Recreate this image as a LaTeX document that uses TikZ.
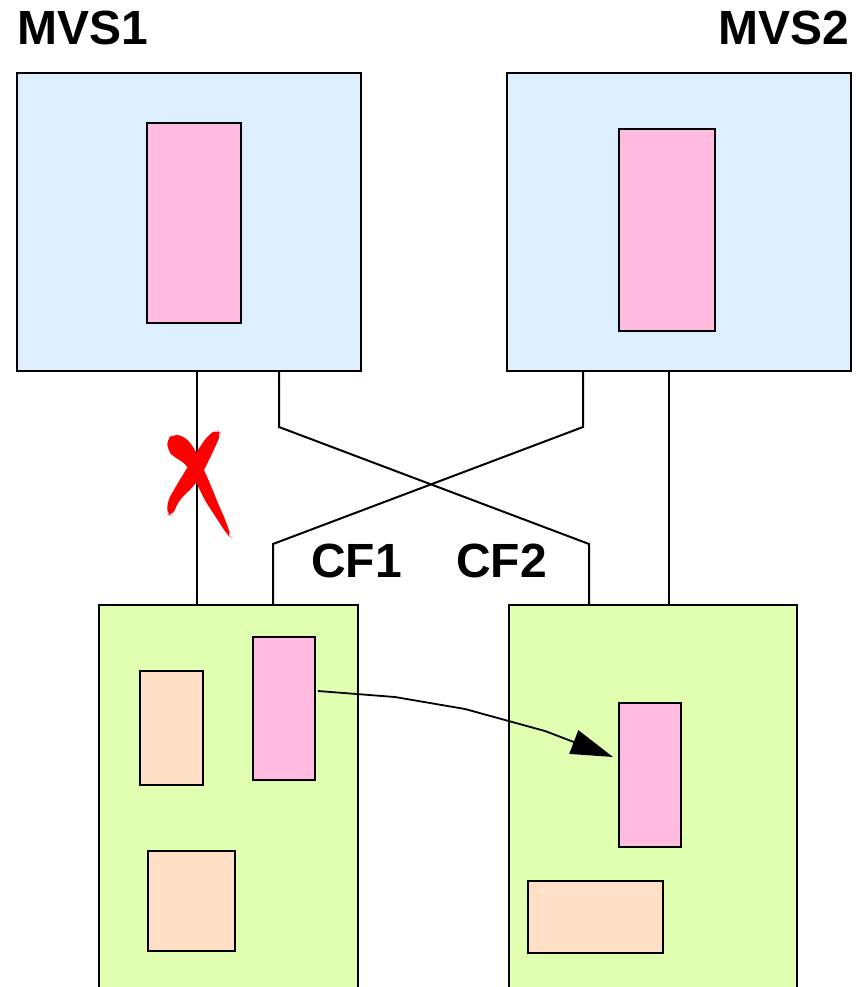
\documentclass[tikz,border=0pt]{standalone}
\usepackage{fontspec}
\setmainfont{Liberation Sans}
\usetikzlibrary{arrows.meta}
\definecolor{mvsblue}{RGB}{221,238,255}
\definecolor{appink}{RGB}{255,187,224}
\definecolor{cfgreen}{RGB}{225,255,176}
\definecolor{peach}{RGB}{255,224,198}
\definecolor{xred}{RGB}{255,0,0}
\tikzset{
  blk/.style={draw=black, line width=2pt, inner sep=0pt, outer sep=0pt, rectangle},
  lbl/.style={font=\fontsize{48}{50}\selectfont\bfseries, inner sep=0pt},
  wire/.style={line width=2pt, line join=miter},
}
\begin{document}
\begin{tikzpicture}[x=1pt,y=-1pt]
\useasboundingbox (0,0) rectangle (863,987);
\clip (0,0) rectangle (863,987);
% MVS boxes
\node[blk, fill=mvsblue, minimum width=344pt, minimum height=298pt] (m1) at (189,222) {};
\node[blk, fill=appink, minimum width=94pt, minimum height=200pt] (p1) at (194,223) {};
\node[blk, fill=mvsblue, minimum width=344pt, minimum height=298pt] (m2) at (679,222) {};
\node[blk, fill=appink, minimum width=96pt, minimum height=202pt] (p2) at (667,230) {};
% CF boxes
\node[blk, fill=cfgreen, minimum width=259pt, minimum height=405pt] (c1) at (228.5,807.5) {};
\node[blk, fill=peach, minimum width=63pt, minimum height=114pt] (a1) at (171.5,728) {};
\node[blk, fill=appink, minimum width=62pt, minimum height=143pt] (a2) at (284,708.5) {};
\node[blk, fill=peach, minimum width=87pt, minimum height=100pt] (a3) at (191.5,901) {};
\node[blk, fill=cfgreen, minimum width=288pt, minimum height=405pt] (c2) at (653,807.5) {};
\node[blk, fill=appink, minimum width=62pt, minimum height=144pt] (b1) at (650,775) {};
\node[blk, fill=peach, minimum width=135pt, minimum height=72pt] (b2) at (595.5,917) {};
% labels
\node[lbl, anchor=base west] (t1) at (17,45) {MVS1};
\node[lbl, anchor=base east] (t2) at (849,45) {MVS2};
\node[lbl, anchor=base west] (t3) at (311,577) {CF1};
\node[lbl, anchor=base west] (t4) at (456,577) {CF2};
% wires
\draw[wire] ([xshift=180pt]m1.south west) -- ([xshift=98pt]c1.north west);
\draw[wire] ([xshift=262pt]m1.south west) -- ++(0,56) -- ([xshift=80pt,yshift=61pt]c2.north west) -- ([xshift=80pt]c2.north west);
\draw[wire] ([xshift=76pt]m2.south west) -- ++(0,56) -- ([xshift=174pt,yshift=61pt]c1.north west) -- ([xshift=174pt]c1.north west);
\draw[wire] ([xshift=162pt]m2.south west) -- ([xshift=160pt]c2.north west);
% arrow
\coordinate (s) at ([xshift=3pt,yshift=17.5pt]a2.east);
\coordinate (e) at ([xshift=-6pt,yshift=18pt]b1.west);
\draw[line width=1.8pt, line join=round, -{Triangle[length=42pt,width=25pt]}]
  (s) -- (395,697) -- (465,709) -- (545,731) -- (e);
% red X
\begin{scope}[shift={(140,420)}, xscale=1/3, yscale=1/3]
\fill[xred, rounded corners=6pt] (80,60) -- (100,42) -- (135,50) -- (165,88) -- (192,150) -- (212,195) -- (232,245) -- (258,305) -- (274,352) -- (262,345) -- (228,292) -- (200,250) -- (180,212) -- (160,165) -- (130,125) -- (102,112) -- (84,92) -- cycle;
\fill[xred, rounded corners=6pt] (232,28) -- (243,42) -- (212,110) -- (188,158) -- (160,200) -- (118,240) -- (96,288) -- (80,282) -- (84,240) -- (118,182) -- (150,130) -- (180,80) -- (205,45) -- cycle;
\end{scope}
\end{tikzpicture}
\end{document}
